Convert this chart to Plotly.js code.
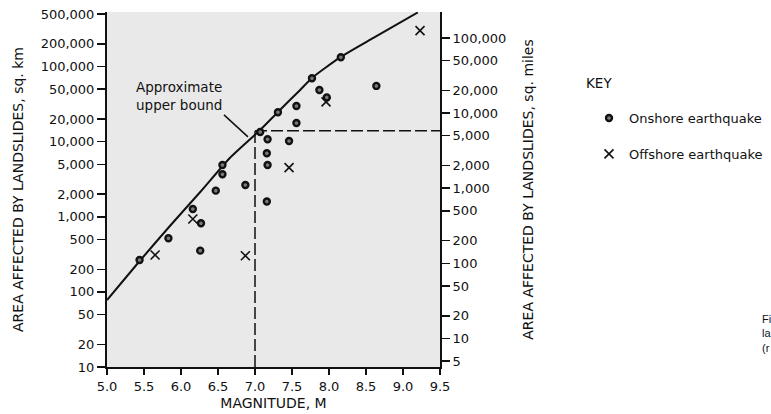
<!DOCTYPE html>
<html>
<head>
<meta charset="utf-8">
<script src="https://cdn.plot.ly/plotly-3.0.1.min.js"></script>
<style>html,body{margin:0;padding:0;background:#fff;}#chart{width:771px;height:414px;}</style>
</head>
<body>
<div id="chart"></div>
<script>
// Onshore earthquakes: magnitude M and area affected by landslides (sq. km)
const onshoreM = [5.44, 5.83, 6.16, 6.27, 6.26, 6.47, 6.56, 6.56, 6.87, 7.16, 7.07, 7.17, 7.16, 7.17, 7.46, 7.31, 7.56, 7.56, 7.77, 7.87, 7.97, 8.16, 8.64];
const onshoreArea = [266, 517, 1270, 819, 354, 2227, 3680, 4895, 2652, 1599, 13460, 10770, 7010, 4895, 10220, 24620, 29860, 17740, 69860, 48780, 38800, 133000, 55200];
// Offshore earthquakes
const offshoreM = [5.65, 6.16, 6.87, 7.46, 7.96, 9.23];
const offshoreArea = [310, 935, 303, 4508, 33800, 300600];
// Approximate upper bound curve
const boundM = [5.0, 5.43, 5.85, 6.26, 6.66, 7.07, 7.31, 7.61, 7.77, 8.16, 8.60, 9.20];
const boundArea = [78, 250, 754, 2138, 6067, 14320, 24850, 48780, 70470, 134300, 240400, 525000];
// Dashed guide at M = 7.0
const guideM = 7.0;
const guideArea = 14000;
const xMax = 9.5;
const yMin = 10;
// sq. km per sq. mile as drawn on the right-hand scale
const kmPerMile = 2.4;
// Tick labels
const xTicks = [5.0, 5.5, 6.0, 6.5, 7.0, 7.5, 8.0, 8.5, 9.0, 9.5];
const kmTicks = [10, 20, 50, 100, 200, 500, 1000, 2000, 5000, 10000, 20000, 50000, 100000, 200000, 500000];
const kmLabels = ['10', '20', '50', '100', '200', '500', '1,000', '2,000', '5,000', '10,000', '20,000', '50,000', '100,000', '200,000', '500,000'];
const miTicks = [5, 10, 20, 50, 100, 200, 500, 1000, 2000, 5000, 10000, 20000, 50000, 100000];
const miLabels = ['5', '10', '20', '50', '100', '200', '500', '1,000', '2,000', '5,000', '10,000', '20,000', '50,000', '100,000'];

const FONT = 'DejaVu Sans, Verdana, sans-serif';
const INK = '#111';

const traces = [
  {x: boundM, y: boundArea, mode: 'lines', line: {color: INK, width: 2, shape: 'spline', smoothing: 0.6}, showlegend: false, hoverinfo: 'skip'},
  {x: [guideM, guideM], y: [yMin, guideArea], mode: 'lines', line: {color: INK, width: 1.5, dash: '12px,4px'}, showlegend: false, hoverinfo: 'skip'},
  {x: [guideM, xMax], y: [guideArea, guideArea], mode: 'lines', line: {color: INK, width: 1.5, dash: '12px,4px'}, showlegend: false, hoverinfo: 'skip'},
  {x: onshoreM, y: onshoreArea, mode: 'markers', name: 'Onshore earthquake', legendgroup: 'a',
   marker: {symbol: 'circle', size: 6, color: '#7a7a7a', line: {color: INK, width: 2.4}}, cliponaxis: false},
  {x: offshoreM, y: offshoreArea, mode: 'markers', name: 'Offshore earthquake', legendgroup: 'b',
   marker: {symbol: 'x-thin-open', size: 9, color: INK, line: {color: INK, width: 1.6}}, cliponaxis: false},
  // same onshore data expressed in sq. miles, invisible, only to carry the right-hand axis
  {x: onshoreM, y: onshoreArea.map(v => v / kmPerMile), yaxis: 'y2', mode: 'markers',
   marker: {opacity: 0}, showlegend: false, hoverinfo: 'skip'}
];

const layout = {
  width: 771, height: 414, autosize: false,
  margin: {l: 107, r: 331, t: 12, b: 47, pad: 0, autoexpand: false},
  paper_bgcolor: '#fff', plot_bgcolor: '#e9e9e9',
  font: {family: FONT, size: 13, color: INK},
  xaxis: {
    range: [5, 9.5], tickvals: xTicks, ticktext: xTicks.map(v => v.toFixed(1)),
    ticks: 'outside', ticklen: 6, tickwidth: 1.5, tickcolor: INK, automargin: false,
    showline: true, linewidth: 2, linecolor: INK, showgrid: false, zeroline: false,
    tickfont: {size: 13},
    title: {text: 'MAGNITUDE, M', font: {size: 14}, standoff: 6}
  },
  yaxis: {
    type: 'log', range: [1, 5.726], tickvals: kmTicks, ticktext: kmLabels,
    ticks: 'outside', ticklen: 8, tickwidth: 1.5, tickcolor: INK, automargin: false,
    showline: true, linewidth: 2, linecolor: INK, showgrid: false, zeroline: false,
    tickfont: {size: 13},
    title: {text: 'AREA AFFECTED BY LANDSLIDES, sq. km', font: {size: 14}, standoff: 14}
  },
  yaxis2: {
    type: 'log', overlaying: 'y', side: 'right', range: [0.620, 5.346],
    tickvals: miTicks, ticktext: miLabels,
    ticks: 'outside', ticklen: 8, tickwidth: 1.5, tickcolor: INK, automargin: false,
    showline: true, linewidth: 2, linecolor: INK, showgrid: false, zeroline: false,
    tickfont: {size: 13},
    title: {text: 'AREA AFFECTED BY LANDSLIDES, sq. miles', font: {size: 14}, standoff: 18}
  },
  showlegend: true,
  legend: {xref: 'container', yref: 'container', x: 589 / 771, xanchor: 'left', y: 1 - 103 / 414, yanchor: 'top',
           bgcolor: 'rgba(0,0,0,0)', font: {size: 13}, tracegroupgap: 16, itemwidth: 30},
  annotations: [
    {x: 6.905, y: Math.log10(11560), xref: 'x', yref: 'y', text: 'Approximate<br>upper bound',
     showarrow: true, arrowhead: 0, arrowwidth: 1.5, arrowcolor: INK, ax: -24, ay: -22,
     xanchor: 'right', yanchor: 'bottom', align: 'left', font: {size: 13.5}, bgcolor: 'rgba(0,0,0,0)'},
    {x: 0, y: 0, xref: 'paper', yref: 'paper', text: 'KEY', showarrow: false,
     xanchor: 'left', yanchor: 'middle', font: {size: 13.5}},
    {x: 0, y: 0, xref: 'paper', yref: 'paper', text: 'Fi<br>la<br>(r', showarrow: false,
     xanchor: 'left', yanchor: 'middle', align: 'left', font: {size: 11, family: 'Liberation Sans, Arial, sans-serif'}}
  ]
};
// place page-level labels at their pixel positions
const pw = 771 - 107 - 331, ph = 414 - 12 - 47;
layout.annotations[1].x = (584 - 107) / pw;
layout.annotations[1].y = 1 - (83 - 12) / ph;
layout.annotations[2].x = (760 - 107) / pw;
layout.annotations[2].y = 1 - (333 - 12) / ph;

Plotly.newPlot('chart', traces, layout, {displayModeBar: false, staticPlot: true});
</script>
</body>
</html>
